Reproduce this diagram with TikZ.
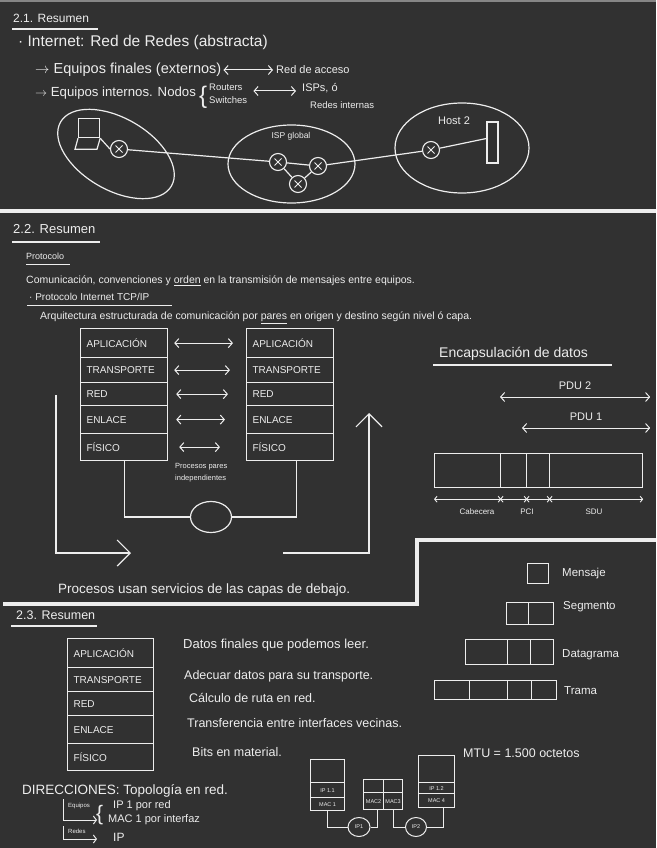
\documentclass[tikz,border=0pt]{standalone}
\usepackage{fontspec}
\setmainfont{Liberation Sans}
\usetikzlibrary{arrows.meta, positioning, calc, shapes.geometric}
\definecolor{board}{HTML}{313131}
\definecolor{chalk}{HTML}{EDEDED}
\newcommand{\tsize}[1]{\fontsize{#1}{#1}\selectfont}

\begin{document}
\begin{tikzpicture}[x=1pt, y=-1pt,
        ink/.style={draw=chalk, line width=1.2pt},
        rule/.style={draw=chalk, line width=3.5pt},
        say/.style={anchor=west, inner xsep=0pt, text=chalk, align=left},
        layer/.style={draw=chalk, line width=1.2pt, anchor=north west, text width=75pt, inner xsep=6pt, inner ysep=0pt, text=chalk, align=left, font=\tsize{10}},
        cell/.style={draw=chalk, line width=1.2pt, anchor=north west, inner sep=0pt, text=chalk, font=\tsize{5.5}},
        router/.style={circle, draw=chalk, line width=1.1pt, minimum size=17pt, inner sep=0pt, path picture={\draw[chalk, line width=1pt] ([shift={(-3.5,-3.5)}]path picture bounding box.center) -- ([shift={(3.5,3.5)}]path picture bounding box.center) ([shift={(-3.5,3.5)}]path picture bounding box.center) -- ([shift={(3.5,-3.5)}]path picture bounding box.center);}},
        pair/.style={draw=chalk, line width=1pt, {Straight Barb[length=4pt, width=9pt]}-{Straight Barb[length=4pt, width=9pt]}},
        bigarrow/.style={draw=chalk, line width=1.2pt, -{Straight Barb[length=13pt, width=26pt]}},
        dim/.style={draw=chalk, line width=0.9pt, {Straight Barb[length=2.5pt, width=6pt]}-{Straight Barb[length=2.5pt, width=6pt]}}
    ]
        % Board
        \useasboundingbox (0,0) rectangle (656,848);
        \fill[board] (0,0) rectangle (656,848);
        \fill[chalk!45!board] (0,0) rectangle (656,2.5);

        % 2.1 Resumen
        \node[say, font=\tsize{12}] (res1) at (13,18) {2.1. Resumen};
        \draw[ink] (12,29) -- (98,29);
        \node[say, font=\tsize{15.5}] (inet) at (18,42) {· Internet: Red de Redes (abstracta)};
        \node[say, font=\tsize{14.5}] (efin) at (35,70) {$\rightarrow$ Equipos finales (externos)};
        \node[say, font=\tsize{11}] (racc) at (276,70) {Red de acceso};
        \draw[pair, shorten <=2pt, shorten >=3pt] (efin.east) -- (racc.west);
        \node[say, font=\tsize{13.2}] (eint) at (35,93) {$\rightarrow$ Equipos internos. Nodos};
        \node[say, font=\tsize{24}] (llave1) at (199,97) {\{};
        \node[say, font=\fontsize{9.5}{13}\selectfont] (rsw) at (209,94) {Routers\\Switches};
        \node[say, font=\tsize{11}] (isps) at (302,88) {ISPs, ó};
        \node[say, font=\tsize{9.5}] (redint) at (310,105) {Redes internas};
        \draw[pair, shorten <=6pt, shorten >=6pt] ([yshift=3pt]rsw.east) -- ([yshift=3pt]rsw.east -| isps.west);

        % Red de redes
        \node[ink, ellipse, minimum width=128pt, minimum height=72pt, rotate=-30] (zona1) at (116,154) {};
        \node[ink, ellipse, minimum width=127pt, minimum height=78pt] (zonaisp) at (291.5,164) {};
        \node[ink, ellipse, minimum width=134pt, minimum height=90pt] (zonahost) at (462,148) {};
        \node[say, anchor=center, font=\tsize{8.5}] (ispg) at (291,136) {ISP global};
        \node[say, anchor=center, font=\tsize{11}] (host2) at (454,121) {Host 2};
        \node[ink, anchor=north west, minimum width=21pt, minimum height=19pt, inner sep=0pt] (laptop) at (78,118) {};
        \draw[ink] (laptop.south west) -- ++(-3,11) -- ++(22,0) -- (laptop.south east);
        \node[router] (r1) at (119,149) {};
        \node[router] (ia) at (278,162) {};
        \node[router] (ib) at (318,166) {};
        \node[router] (ic) at (298,184) {};
        \node[router] (rh) at (431,150) {};
        \node[ink, minimum width=11pt, minimum height=41pt, inner sep=0pt] (hostpc) at (492.5,142.5) {};
        \draw[ink] (laptop.south east) -- (r1.west);
        \draw[ink] (r1) -- (ia);
        \draw[ink] (ia) -- (ib);
        \draw[ink] (ia) -- (ic);
        \draw[ink] (ic) -- (ib);
        \draw[ink] (ib) -- (rh);
        \draw[ink] (rh) -- ([yshift=4pt]hostpc.west);

        \draw[rule] (0,211) -- (656,211);

        % 2.2 Resumen
        \node[say, font=\tsize{13}] (res2) at (13,229) {2.2. Resumen};
        \draw[ink] (12,242) -- (100,242);
        \node[say, font=\tsize{9}] (proto) at (26,256) {Protocolo};
        \draw[ink, line width=1pt] (26,264) -- (70,264);
        \node[say, font=\tsize{10.5}] (comu) at (26,281) {Comunicación, convenciones y \underline{orden} en la transmisión de mensajes entre equipos.};
        \node[say, font=\tsize{10}] (tcpip) at (29,297) {· Protocolo Internet TCP/IP};
        \draw[ink, line width=1pt] (27,305) -- (172,305);
        \node[say, font=\tsize{10.5}] (arq) at (40,318) {Arquitectura estructurada de comunicación por \underline{pares} en origen y destino según nivel ó capa.};

        % Pila origen
        \node[layer, minimum height=29pt] (lapl) at (80,328) {APLICACIÓN};
        \node[layer, minimum height=25pt] (ltra) at (80,357) {TRANSPORTE};
        \node[layer, minimum height=23pt] (lred) at (80,382) {RED};
        \node[layer, minimum height=28pt] (lenl) at (80,405) {ENLACE};
        \node[layer, minimum height=27pt] (lfis) at (80,433) {FÍSICO};

        % Pila destino
        \node[layer, minimum height=29pt] (rapl) at (246,328) {APLICACIÓN};
        \node[layer, minimum height=25pt] (rtra) at (246,357) {TRANSPORTE};
        \node[layer, minimum height=23pt] (rred) at (246,382) {RED};
        \node[layer, minimum height=28pt] (renl) at (246,405) {ENLACE};
        \node[layer, minimum height=27pt] (rfis) at (246,433) {FÍSICO};

        % Procesos pares
        \draw[pair, shorten <=6pt, shorten >=13pt] (lapl.east) -- (rapl.west);
        \draw[pair, shorten <=6pt, shorten >=16pt] (ltra.east) -- (rtra.west);
        \draw[pair, shorten <=8pt, shorten >=18pt] (lred.east) -- (rred.west);
        \draw[pair, shorten <=8pt, shorten >=21pt] (lenl.east) -- (renl.west);
        \draw[pair, shorten <=11pt, shorten >=26pt] (lfis.east) -- (rfis.west);
        \node[say, anchor=north west, font=\fontsize{7.5}{12}\selectfont] (indep) at (175,460) {Procesos pares\\independientes};

        % Medio fisico
        \node[ink, ellipse, minimum width=41pt, minimum height=31pt] (medio) at (211,517) {};
        \draw[ink] (lfis.south) |- (medio.west);
        \draw[ink] ([xshift=6pt]rfis.south) |- (medio.east);
        \coordinate (bajaA) at (56,395);
        \coordinate (bajaB) at (131,553);
        \draw[bigarrow] (bajaA) |- (bajaB);
        \coordinate (subeA) at (283,553);
        \coordinate (subeB) at (369,413);
        \draw[bigarrow] (subeA) -| (subeB);
        \node[say, font=\tsize{13.5}] (servicios) at (58,590) {Procesos usan servicios de las capas de debajo.};

        % Encapsulacion
        \node[say, font=\tsize{14}] (encap) at (439,354) {Encapsulación de datos};
        \draw[ink] (433,365) -- (612,365);
        \node[cell, minimum width=66pt, minimum height=34pt] (cab) at (434,453) {};
        \node[cell, minimum width=26pt, minimum height=34pt] (pcia) at (500,453) {};
        \node[cell, minimum width=23pt, minimum height=34pt] (pcib) at (526,453) {};
        \node[cell, minimum width=93pt, minimum height=34pt] (sdu) at (549,453) {};
        \draw[pair] ([yshift=56pt]pcia.north west) -- ([xshift=7pt, yshift=56pt]sdu.north east) node[midway, above=4pt, text=chalk, font=\tsize{11}] (pdu2) {PDU 2};
        \draw[pair] ([xshift=-4pt, yshift=25pt]pcib.north west) -- ([xshift=7pt, yshift=25pt]sdu.north east) node[midway, above=4pt, text=chalk, font=\tsize{11}] (pdu1) {PDU 1};
        \draw[dim] ([yshift=-11pt]cab.south west) -- ([yshift=-11pt]cab.south east);
        \draw[dim] ([yshift=-11pt]pcia.south west) -- ([yshift=-11pt]pcia.south east);
        \draw[dim] ([yshift=-11pt]pcib.south west) -- ([yshift=-11pt]pcib.south east);
        \draw[dim] ([yshift=-11pt]sdu.south west) -- ([yshift=-11pt]sdu.south east);
        \node[text=chalk, font=\tsize{8}] (lcab) at (477,512) {Cabecera};
        \node[text=chalk, font=\tsize{8}] (lpci) at (527,512) {PCI};
        \node[text=chalk, font=\tsize{8}] (lsdu) at (594,512) {SDU};

        \draw[rule, line join=miter] (3,604) -- (417,604) -- (417,540) -- (656,540);

        % Unidades de datos
        \node[cell, minimum width=21pt, minimum height=20pt] (msg) at (527,563) {};
        \node[cell, minimum width=22pt, minimum height=22pt] (sega) at (506,602) {};
        \node[cell, minimum width=25pt, minimum height=22pt] (segb) at (528,602) {};
        \node[cell, minimum width=42pt, minimum height=25pt] (data) at (465,639) {};
        \node[cell, minimum width=23pt, minimum height=25pt] (datb) at (507,639) {};
        \node[cell, minimum width=23pt, minimum height=25pt] (datc) at (530,639) {};
        \node[cell, minimum width=35pt, minimum height=19pt] (trma) at (434,680) {};
        \node[cell, minimum width=38pt, minimum height=19pt] (trmb) at (469,680) {};
        \node[cell, minimum width=24pt, minimum height=19pt] (trmc) at (507,680) {};
        \node[cell, minimum width=25pt, minimum height=19pt] (trmd) at (531,680) {};
        \node[say, font=\tsize{11.5}] (lmsg) at (562,574) {Mensaje};
        \node[say, font=\tsize{11.5}] (lseg) at (563,607) {Segmento};
        \node[say, font=\tsize{11.5}] (ldat) at (562,655) {Datagrama};
        \node[say, font=\tsize{11.5}] (ltrm) at (564,691) {Trama};

        % 2.3 Resumen
        \node[say, font=\tsize{12.5}] (res3) at (16,615) {2.3. Resumen};
        \draw[ink] (11,626) -- (97,626);
        \node[layer, text width=74pt, minimum height=29pt] (bapl) at (67,638) {APLICACIÓN};
        \node[layer, text width=74pt, minimum height=24pt] (btra) at (67,667) {TRANSPORTE};
        \node[layer, text width=74pt, minimum height=24pt] (bred) at (67,691) {RED};
        \node[layer, text width=74pt, minimum height=28pt] (benl) at (67,715) {ENLACE};
        \node[layer, text width=74pt, minimum height=27pt] (bfis) at (67,743) {FÍSICO};
        \node[say, font=\tsize{13}] (dapl) at (183,645) {Datos finales que podemos leer.};
        \node[say, font=\tsize{12.5}] (dtra) at (184,676) {Adecuar datos para su transporte.};
        \node[say, font=\tsize{12.5}] (dred) at (189,698) {Cálculo de ruta en red.};
        \node[say, font=\tsize{12.5}] (denl) at (187,723) {Transferencia entre interfaces vecinas.};
        \node[say, font=\tsize{12.5}] (dfis) at (192,752) {Bits en material.};

        % Direcciones
        \node[say, font=\tsize{13.5}] (dirs) at (22,791) {DIRECCIONES: Topología en red.};
        \coordinate (eqA) at (63,799);
        \coordinate (eqB) at (97,820);
        \draw[ink, line width=1pt, -{Straight Barb[length=3pt, width=8pt]}] (eqA) |- (eqB);
        \node[say, font=\tsize{6}] (leq) at (68,806) {Equipos};
        \node[say, font=\tsize{21}] (llave2) at (96,815) {\{};
        \node[say, font=\tsize{11}] (ipred) at (113,806) {IP 1 por red};
        \node[say, font=\tsize{11}] (macif) at (108,820) {MAC 1 por interfaz};
        \coordinate (reA) at (63,826);
        \coordinate (reB) at (97,839);
        \draw[ink, line width=1pt, -{Straight Barb[length=3pt, width=8pt]}] (reA) |- (reB);
        \node[say, font=\tsize{6}] (lre) at (68,831) {Redes};
        \node[say, font=\tsize{12}] (ipre) at (113,837) {IP};

        % Ejemplo de red
        \node[say, font=\tsize{12.5}] (mtu) at (463,753) {MTU = 1.500 octetos};
        \node[cell, minimum width=34pt, minimum height=23pt] (pca) at (310,759) {};
        \node[cell, minimum width=34pt, minimum height=15pt] (ipa) at (310,782) {IP 1.1};
        \node[cell, minimum width=34pt, minimum height=13pt] (maca) at (310,797) {MAC 1};
        \node[cell, minimum width=20pt, minimum height=13pt] (rta) at (363,779) {};
        \node[cell, minimum width=19pt, minimum height=13pt] (rtb) at (383,779) {};
        \node[cell, minimum width=20pt, minimum height=17pt] (mac2) at (363,792) {MAC2};
        \node[cell, minimum width=19pt, minimum height=17pt] (mac3) at (383,792) {MAC3};
        \node[cell, minimum width=36pt, minimum height=27pt] (pcc) at (418,755) {};
        \node[cell, minimum width=36pt, minimum height=11pt] (ipc) at (418,782) {IP 1.2};
        \node[cell, minimum width=36pt, minimum height=14pt] (macc) at (418,793) {MAC 4};
        \node[ink, ellipse, line width=1pt, minimum width=22pt, minimum height=19pt, inner sep=0pt, text=chalk, font=\tsize{5.5}] (ipuno) at (359,827) {IP1};
        \node[ink, ellipse, line width=1pt, minimum width=21pt, minimum height=19pt, inner sep=0pt, text=chalk, font=\tsize{5.5}] (ipdos) at (416,827) {IP2};
        \draw[ink, line width=1pt] (maca.south) |- (ipuno.west);
        \draw[ink, line width=1pt] (ipuno.east) -| ([xshift=4pt]mac2.south);
        \draw[ink, line width=1pt] (mac3.south) |- (ipdos.west);
        \draw[ink, line width=1pt] (ipdos.east) -| ([xshift=7pt]macc.south);
    \end{tikzpicture}
\end{document}
